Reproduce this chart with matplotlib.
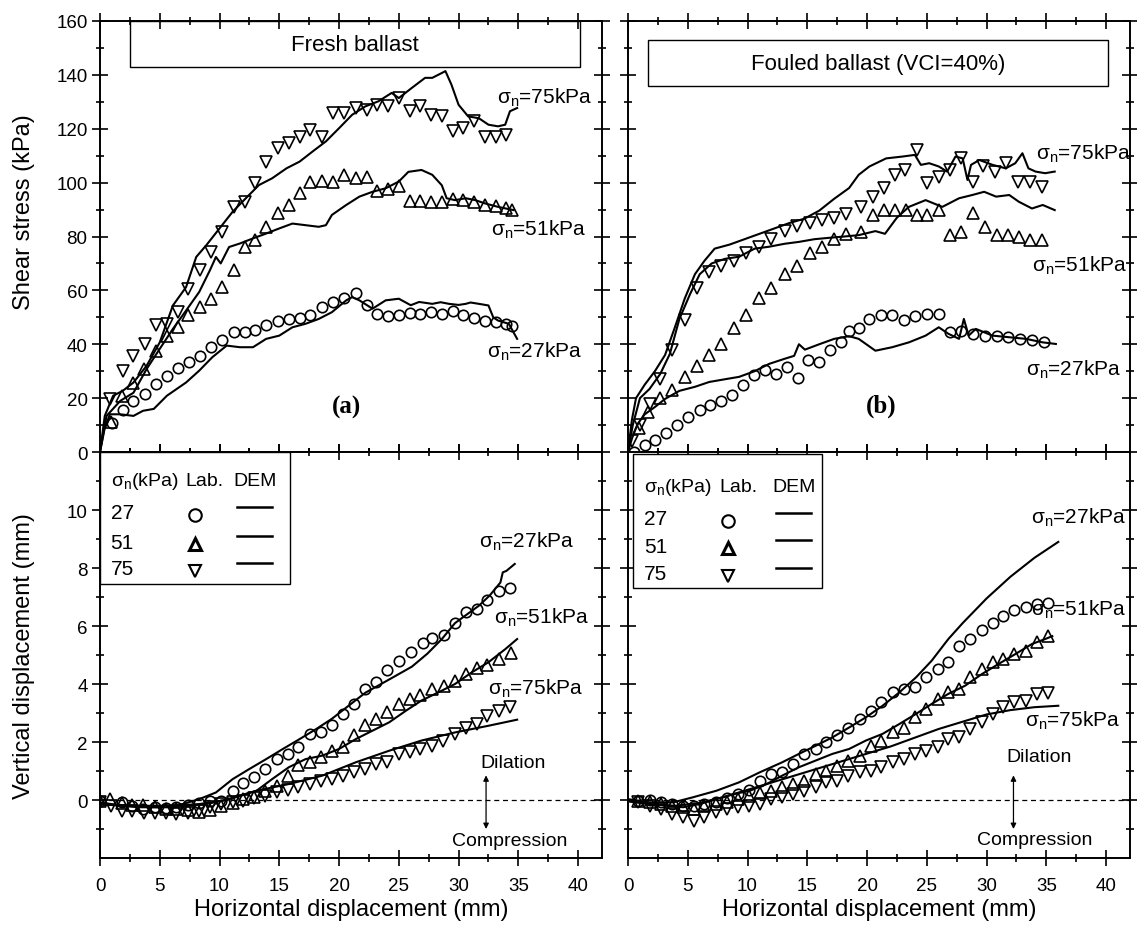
import numpy as np
import matplotlib
matplotlib.use('Agg')
import matplotlib.pyplot as plt
from matplotlib.patches import Rectangle

plt.rcParams['font.family'] = ['Liberation Sans', 'DejaVu Sans']

# ---------------- (a) fresh ballast, shear stress (kPa) ----------------
a_lab27_x = [0.97, 1.89, 2.78, 3.75, 4.67, 5.61, 6.53, 7.44, 8.39, 9.31, 10.2, 11.2, 12.1, 13.0,
             13.9, 14.9, 15.8, 16.7, 17.6, 18.6, 19.5, 20.4, 21.4, 22.3, 23.2, 24.1, 25.0, 25.9,
             26.8, 27.7, 28.6, 29.5, 30.4, 31.3, 32.2, 33.1, 34.0, 34.5]
a_lab27_y = [10.9, 15.7, 19.0, 21.5, 25.2, 28.3, 31.1, 33.3, 35.5, 38.9, 41.7, 44.5, 44.7, 45.3,
             47.2, 48.8, 49.4, 49.7, 50.9, 53.8, 55.7, 57.1, 59.1, 54.4, 51.3, 50.4, 50.7, 51.5,
             51.3, 51.9, 51.3, 52.2, 51.0, 49.8, 48.8, 48.2, 47.6, 46.8]
a_lab51_x = [0.9, 1.8, 2.8, 3.7, 4.7, 5.6, 6.5, 7.4, 8.4, 9.3, 10.2, 11.2, 12.1, 13.0, 13.9, 14.9,
             15.8, 16.7, 17.6, 18.6, 19.5, 20.4, 21.4, 22.3, 23.2, 24.1, 25.0, 25.9, 26.8, 27.7,
             28.6, 29.5, 30.4, 31.3, 32.2, 33.1, 34.0, 34.5]
a_lab51_y = [11.0, 20.9, 25.5, 30.8, 37.6, 43.2, 46.3, 50.7, 53.8, 56.9, 61.2, 67.5, 76.1, 78.6,
             83.6, 88.6, 91.7, 96.0, 100.4, 100.6, 100.4, 102.9, 101.9, 102.2, 96.8, 97.5, 98.6,
             93.0, 93.0, 92.9, 92.7, 94.0, 93.5, 92.9, 91.8, 91.2, 90.6, 90.0]
a_lab75_x = [0.8, 1.9, 2.8, 3.75, 4.7, 5.6, 6.5, 7.4, 8.4, 9.3, 10.2, 11.2, 12.1, 13.0, 13.9,
             14.9, 15.8, 16.7, 17.6, 18.6, 19.5, 20.4, 21.4, 22.3, 23.2, 24.1, 25.0, 25.9, 26.8,
             27.7, 28.6, 29.5, 30.4, 31.3, 32.2, 33.1, 34.0]
a_lab75_y = [19.6, 30.2, 35.8, 40.1, 47.0, 47.6, 51.9, 60.6, 67.5, 74.3, 81.7, 91.1, 92.9, 99.8,
             107.8, 112.8, 114.7, 117.1, 119.6, 117.1, 125.8, 125.8, 127.7, 127.1, 128.9, 128.3,
             131.4, 126.5, 128.3, 125.2, 124.6, 119.0, 120.3, 123.0, 117.0, 117.0, 117.5]

a_dem27_x = [0, 0.4, 0.83, 1.7, 2.8, 3.6, 4.5, 5.6, 7.2, 8.3, 9.4, 10.6, 11.7, 12.8, 13.9, 15.0,
             16.1, 17.2, 18.3, 19.4, 20.6, 21.1, 21.7, 22.8, 23.9, 25.0, 26.0, 26.7, 27.8, 28.5,
             29.2, 30.0, 30.6, 31.0, 31.7, 32.5, 32.9, 33.3, 34.2, 34.9]
a_dem27_y = [0, 9.0, 14.0, 14.0, 13.4, 15.3, 16.0, 20.9, 25.8, 30.2, 35.2, 39.5, 38.9, 38.9, 42.0,
             43.2, 46.3, 47.6, 49.4, 51.9, 56.3, 57.5, 56.3, 53.2, 56.3, 56.9, 54.5, 55.7, 55.0,
             55.6, 55.0, 54.6, 55.0, 55.5, 55.0, 54.4, 50.0, 48.8, 47.6, 42.0]
a_dem51_x = [0, 0.55, 1.7, 2.8, 3.9, 5.0, 6.1, 7.2, 8.3, 9.2, 9.7, 10.1, 10.8, 11.7, 12.8, 13.9,
             15.0, 16.1, 17.2, 18.3, 18.9, 19.4, 20.6, 21.7, 22.8, 23.9, 25.0, 25.8, 26.9, 27.8,
             28.6, 29.0, 29.7, 30.6, 31.4, 32.2, 33.3, 34.6]
a_dem51_y = [0, 13.4, 19.0, 22.0, 30.8, 38.3, 45.7, 52.5, 59.4, 67.5, 72.4, 70.0, 76.1, 77.4, 79.3,
             81.1, 83.0, 84.8, 84.2, 83.6, 84.2, 88.0, 91.7, 94.8, 96.6, 97.9, 100.4, 104.0, 104.7,
             102.9, 99.0, 94.2, 93.5, 94.2, 93.5, 92.3, 91.0, 89.8]
a_dem75_x = [0, 0.4, 1.1, 1.9, 2.8, 3.9, 5.0, 6.1, 7.2, 8.05, 8.9, 10.0, 11.1, 12.2, 13.3, 14.4,
             15.6, 16.7, 17.8, 18.9, 20.0, 21.1, 22.2, 23.3, 24.4, 25.0, 26.1, 27.2, 27.8, 28.6,
             28.9, 29.4, 30.0, 30.8, 31.7, 32.5, 33.3, 33.9, 34.3, 34.9]
a_dem75_y = [0, 13.4, 20.9, 22.7, 25.8, 32.0, 40.7, 54.4, 61.2, 72.4, 76.8, 83.0, 89.2, 94.2, 99.1,
             101.6, 105.3, 107.8, 111.6, 115.3, 120.2, 125.2, 128.3, 130.2, 133.3, 131.4, 135.2,
             138.9, 138.9, 140.7, 141.4, 136.4, 128.9, 124.6, 123.9, 121.5, 120.9, 121.5, 126.5, 127.7]

# ---------------- (b) fouled ballast, shear stress (kPa) ----------------
b_lab27_x = [0.5, 1.4, 2.3, 3.2, 4.1, 5.0, 6.0, 6.9, 7.8, 8.7, 9.6, 10.5, 11.5, 12.4, 13.3, 14.2,
             15.1, 16.0, 16.9, 17.8, 18.5, 19.3, 20.2, 21.2, 22.1, 23.1, 24.0, 25.0, 26.0, 26.9,
             27.9, 28.9, 29.9, 30.9, 31.8, 32.8, 33.8, 34.8]
b_lab27_y = [0, 2.5, 4.5, 7.0, 10.0, 13.0, 15.5, 17.5, 19.0, 21.0, 25.0, 28.5, 30.5, 29.0, 31.5,
             27.5, 34.0, 33.5, 38.0, 41.0, 45.0, 46.0, 49.5, 51.0, 51.0, 49.0, 50.4, 51.3, 51.3,
             44.5, 45.1, 43.9, 43.2, 43.2, 42.6, 42.0, 41.4, 40.7]
b_lab51_x = [0.9, 1.7, 2.7, 3.7, 4.75, 5.75, 6.8, 7.8, 8.9, 9.9, 11.0, 12.0, 13.1, 14.1, 15.2, 16.2,
             17.25, 18.25, 19.5, 20.5, 21.4, 22.3, 23.3, 24.2, 25.0, 26.0, 26.9, 27.9, 28.9, 29.9,
             30.9, 31.8, 32.7, 33.6, 34.6]
b_lab51_y = [9.0, 15.0, 20.0, 23.0, 28.0, 32.0, 36.0, 40.0, 46.0, 51.0, 57.0, 61.0, 66.0, 69.0,
             74.0, 76.0, 79.0, 81.0, 81.7, 88.0, 89.8, 89.8, 89.8, 88.0, 88.0, 89.8, 80.5, 81.7,
             88.6, 83.6, 80.5, 80.5, 79.9, 78.6, 78.6]
b_lab75_x = [0.3, 1.0, 1.8, 2.7, 3.7, 4.75, 5.75, 6.8, 7.8, 8.9, 9.9, 11.0, 12.0, 13.1, 14.1, 15.2,
             16.2, 17.25, 18.25, 19.5, 20.5, 21.4, 22.3, 23.2, 24.2, 25.0, 26.0, 26.9, 27.9, 28.9,
             29.7, 30.7, 31.6, 32.6, 33.6, 34.6]
b_lab75_y = [4.0, 10.0, 18.0, 27.0, 38.0, 49.0, 61.0, 67.0, 69.0, 71.0, 74.0, 76.0, 79.0, 82.0,
             84.0, 85.0, 86.0, 87.0, 88.5, 91.0, 94.8, 97.9, 102.9, 104.7, 112.2, 99.8, 102.2,
             104.7, 109.0, 100.4, 106.0, 104.1, 107.2, 100.4, 100.4, 98.5]

b_dem27_x = [0, 0.33, 0.8, 1.4, 2.25, 3.1, 4.3, 5.6, 6.8, 8.1, 9.3, 10.6, 11.8, 13.1, 13.9, 14.3,
             14.8, 16.0, 17.25, 18.5, 19.3, 20.7, 22.1, 23.5, 24.9, 26.0, 26.8, 27.7, 28.1, 28.5,
             29.1, 30.5, 31.9, 33.3, 34.7, 35.8]
b_dem27_y = [0, 5.0, 10.4, 14.0, 16.7, 19.7, 22.7, 24.2, 26.0, 27.0, 27.9, 30.0, 32.7, 34.6, 35.7,
             40.0, 38.0, 40.0, 42.0, 43.0, 42.0, 37.6, 38.9, 40.7, 43.2, 46.3, 43.9, 42.0, 49.4,
             43.2, 45.7, 43.2, 42.6, 42.0, 40.7, 40.1]
b_dem51_x = [0, 0.4, 1.0, 1.8, 2.7, 3.5, 4.3, 5.2, 6.0, 7.0, 8.1, 9.3, 10.6, 11.8, 13.1, 14.3, 15.6,
             16.8, 18.1, 19.3, 20.7, 21.5, 22.5, 23.5, 24.9, 26.3, 27.7, 28.8, 29.8, 30.8, 31.9,
             32.7, 33.8, 34.7, 35.7]
b_dem51_y = [0, 10.0, 20.0, 23.4, 29.0, 36.4, 49.4, 58.7, 66.0, 70.0, 71.7, 72.5, 75.5, 76.2, 77.3,
             78.0, 79.0, 79.5, 80.0, 80.5, 82.0, 81.0, 87.0, 91.0, 93.5, 91.0, 94.2, 95.4, 96.6,
             94.8, 95.4, 92.9, 90.4, 91.7, 89.8]
b_dem75_x = [0, 0.33, 0.67, 1.4, 2.25, 3.1, 3.9, 4.75, 5.6, 6.4, 7.25, 8.5, 9.75, 11.0, 12.25, 13.5,
             14.75, 16.0, 17.25, 18.5, 19.3, 20.2, 21.6, 23.0, 24.0, 24.5, 25.2, 26.0, 26.7, 27.4,
             28.0, 28.4, 28.7, 29.4, 30.5, 31.6, 32.4, 33.0, 33.5, 34.1, 34.9, 35.7]
b_dem75_y = [0, 12.0, 20.0, 25.0, 30.0, 36.0, 46.0, 57.0, 66.0, 71.0, 75.5, 77.0, 79.0, 81.0, 83.0,
             85.0, 86.6, 89.6, 94.0, 98.0, 102.9, 106.0, 109.0, 109.7, 110.3, 106.6, 107.2, 106.0,
             104.1, 109.7, 109.0, 101.0, 106.6, 108.4, 106.6, 105.3, 107.2, 110.9, 105.3, 104.1,
             103.5, 104.1]

# ---------------- (a) vertical displacement (mm) ----------------
c_lab27_x = [0, 1.8, 2.7, 3.6, 4.6, 5.5, 6.4, 7.4, 8.3, 9.2, 10.1, 11.1, 12.0, 12.9, 13.8, 14.8,
             15.7, 16.6, 17.6, 18.5, 19.4, 20.3, 21.25, 22.2, 23.1, 24.0, 25.0, 26.0, 27.0, 27.8,
             28.75, 29.7, 30.6, 31.5, 32.4, 33.4, 34.3]
c_lab27_y = [-0.02, -0.06, -0.2, -0.3, -0.25, -0.29, -0.25, -0.16, -0.1, -0.05, -0.05, 0.32, 0.59,
             0.78, 1.07, 1.41, 1.6, 1.82, 2.28, 2.34, 2.6, 2.97, 3.32, 3.84, 4.07, 4.5, 4.8, 5.1,
             5.4, 5.6, 5.7, 6.1, 6.5, 6.6, 6.9, 7.2, 7.3]
c_lab51_x = [0, 0.8, 1.8, 2.7, 3.6, 4.6, 5.5, 6.4, 7.4, 8.3, 9.2, 10.1, 11.1, 12.0, 12.9, 13.8,
             14.8, 15.7, 16.6, 17.6, 18.5, 19.4, 20.3, 21.25, 22.2, 23.1, 24.0, 25.0, 25.9, 26.8,
             27.8, 28.75, 29.7, 30.6, 31.5, 32.4, 33.4, 34.4]
c_lab51_y = [-0.02, 0.03, -0.1, -0.17, -0.17, -0.25, -0.3, -0.3, -0.33, -0.43, -0.33, -0.2, -0.1,
             0.03, 0.09, 0.32, 0.49, 0.84, 1.2, 1.3, 1.5, 1.7, 1.82, 2.24, 2.59, 2.8, 3.02, 3.3, 3.5,
             3.62, 3.83, 3.94, 4.1, 4.34, 4.54, 4.66, 4.86, 5.07]
c_lab75_x = [0, 0.9, 1.8, 2.7, 3.7, 4.6, 5.5, 6.4, 7.4, 8.3, 9.2, 10.1, 11.1, 12.0, 12.9, 13.8,
             14.8, 15.7, 16.6, 17.6, 18.5, 19.4, 20.3, 21.25, 22.2, 23.1, 24.0, 25.0, 25.9, 26.8,
             27.8, 28.7, 29.7, 30.6, 31.5, 32.4, 33.4, 34.3]
c_lab75_y = [-0.08, -0.2, -0.37, -0.37, -0.45, -0.45, -0.45, -0.48, -0.45, -0.37, -0.25, -0.14,
             -0.06, -0.02, 0.06, 0.15, 0.26, 0.36, 0.44, 0.55, 0.67, 0.72, 0.84, 0.95, 1.07, 1.24,
             1.32, 1.59, 1.64, 1.76, 1.87, 2.05, 2.28, 2.5, 2.62, 2.9, 3.08, 3.2]

c_dem27_x = [0, 1.9, 4.7, 6.9, 8.3, 9.7, 11.1, 12.5, 13.9, 15.3, 16.7, 18.1, 19.4, 20.8, 22.2,
             23.3, 24.6, 26.1, 27.4, 28.6, 29.7, 30.7, 31.7, 32.6, 33.5, 33.7, 34.0, 34.7]
c_dem27_y = [-0.08, -0.2, -0.25, -0.14, 0.03, 0.26, 0.72, 1.07, 1.41, 1.76, 2.1, 2.45, 2.8, 3.25,
             3.7, 3.95, 4.25, 4.6, 5.05, 5.55, 6.1, 6.4, 6.7, 7.05, 7.5, 7.85, 7.9, 8.14]
c_dem51_x = [0, 3.3, 6.1, 8.3, 10.3, 11.7, 13.1, 14.4, 15.8, 17.2, 18.6, 20.0, 21.4, 22.8, 24.2,
             25.6, 26.9, 28.3, 29.7, 31.1, 32.5, 33.9, 34.9]
c_dem51_y = [-0.14, -0.2, -0.2, -0.14, -0.02, 0.15, 0.32, 0.72, 1.13, 1.41, 1.53, 1.76, 2.1, 2.39,
             2.68, 3.08, 3.43, 3.71, 4.0, 4.4, 4.75, 5.2, 5.55]
c_dem75_x = [0, 3.3, 6.1, 8.9, 11.1, 13.1, 15.8, 18.6, 21.4, 24.2, 26.9, 29.7, 32.5, 34.9]
c_dem75_y = [-0.14, -0.25, -0.25, -0.14, 0.06, 0.32, 0.55, 0.84, 1.3, 1.7, 2.05, 2.33, 2.56, 2.77]

# ---------------- (b) vertical displacement (mm) ----------------
d_lab_x = [0.86, 1.8, 2.8, 3.7, 4.6, 5.5, 6.4, 7.4, 8.3, 9.2, 10.1, 11.06, 12.0, 12.9, 13.8, 14.75,
           15.7, 16.6, 17.5, 18.4, 19.4, 20.3, 21.2, 22.2, 23.1, 24.0, 24.9, 25.9, 26.8, 27.7,
           28.6, 29.6, 30.5, 31.4, 32.3, 33.3, 34.2]
d_lab27_y = [-0.02, 0, -0.08, -0.14, -0.2, -0.2, -0.14, -0.08, 0.06, 0.2, 0.36, 0.67, 0.9, 0.95,
             1.24, 1.59, 1.76, 2.01, 2.24, 2.5, 2.8, 3.08, 3.37, 3.71, 3.83, 3.89, 4.23, 4.52, 4.77,
             5.32, 5.55, 5.85, 6.1, 6.35, 6.55, 6.65, 6.75]
d_lab51_y = [-0.02, -0.08, -0.14, -0.2, -0.25, -0.31, -0.2, -0.14, -0.08, 0.03, 0.15, 0.24, 0.32,
             0.44, 0.55, 0.67, 0.9, 1.01, 1.18, 1.36, 1.53, 1.87, 2.05, 2.33, 2.5, 2.85, 3.14, 3.48,
             3.71, 3.83, 4.23, 4.52, 4.75, 4.86, 5.03, 5.15, 5.44]
d_lab75_y = [-0.08, -0.2, -0.31, -0.48, -0.6, -0.71, -0.6, -0.43, -0.31, -0.25, -0.2, -0.14, 0.03,
             0.09, 0.2, 0.32, 0.44, 0.61, 0.67, 0.84, 0.95, 1.01, 1.13, 1.3, 1.41, 1.59, 1.7, 1.82,
             2.1, 2.16, 2.45, 2.68, 2.97, 3.2, 3.37, 3.43, 3.66]
d_lab_end_x = [35.1]
d_lab27_end = [6.8]
d_lab51_end = [5.65]
d_lab75_end = [3.7]

d_dem27_x = [0, 1.8, 3.8, 5.4, 7.4, 9.3, 11.0, 12.9, 14.3, 15.7, 17.1, 18.5, 19.9, 21.3, 22.7, 24.1,
             25.4, 26.8, 28.0, 30.0, 32.0, 34.0, 36.0]
d_dem27_y = [0.03, -0.08, -0.08, 0.09, 0.32, 0.61, 0.95, 1.3, 1.59, 1.87, 2.16, 2.5, 2.85, 3.25, 3.71,
             4.23, 4.8, 5.55, 6.1, 6.95, 7.7, 8.35, 8.9]
d_dem51_x = [0, 1.8, 4.6, 6.0, 7.4, 8.8, 10.2, 11.6, 12.9, 14.3, 15.7, 17.1, 18.5, 19.9, 21.3, 22.7,
             24.1, 25.4, 26.8, 28.2, 29.6, 31.0, 32.4, 33.8, 34.9, 35.5]
d_dem51_y = [-0.02, -0.14, -0.25, -0.14, 0.03, 0.2, 0.32, 0.55, 0.84, 1.13, 1.36, 1.59, 1.76, 2.05,
             2.28, 2.62, 2.97, 3.31, 3.66, 3.94, 4.34, 4.69, 5.03, 5.38, 5.55, 5.65]
d_dem75_x = [0, 2, 4, 6, 8, 10, 12, 14, 16, 18, 20, 22, 24, 26, 28, 30, 32, 34, 36]
d_dem75_y = [-0.05, -0.15, -0.2, -0.1, 0.1, 0.35, 0.6, 0.85, 1.1, 1.35, 1.6, 1.85, 2.15, 2.45, 2.7,
             2.95, 3.1, 3.2, 3.25]

TITLES = ['Fresh ballast', 'Fouled ballast (VCI=40%)']
XTICKS = [0, 5, 10, 15, 20, 25, 30, 35, 40]
SIG = r'$\mathregular{\sigma_n}$'

W, H = 1137, 929
fig = plt.figure(figsize=(W / 100, H / 100), dpi=100)

def pos(l, t, r, b):
    return [l / W, 1 - b / H, (r - l) / W, (b - t) / H]

ax_a = fig.add_axes(pos(100, 22, 602, 453))
ax_b = fig.add_axes(pos(628, 22, 1130, 453))
ax_c = fig.add_axes(pos(100, 453, 602, 859))
ax_d = fig.add_axes(pos(628, 453, 1130, 859))

mk = dict(linestyle='none', mfc='none', mec='black', mew=1.2)
ln = dict(color='black', lw=1.5)


def lab_and_dem(ax, lab, dem):
    for (x, y), m, s in zip(lab, ['o', '^', 'v'], [7.5, 8.5, 8.5]):
        ax.plot(x, y, marker=m, ms=s, **mk)
    for x, y in dem:
        ax.plot(x, y, **ln)


lab_and_dem(ax_a, [(a_lab27_x, a_lab27_y), (a_lab51_x, a_lab51_y), (a_lab75_x, a_lab75_y)],
            [(a_dem27_x, a_dem27_y), (a_dem51_x, a_dem51_y), (a_dem75_x, a_dem75_y)])
lab_and_dem(ax_b, [(b_lab27_x, b_lab27_y), (b_lab51_x, b_lab51_y), (b_lab75_x, b_lab75_y)],
            [(b_dem27_x, b_dem27_y), (b_dem51_x, b_dem51_y), (b_dem75_x, b_dem75_y)])
lab_and_dem(ax_c, [(c_lab27_x, c_lab27_y), (c_lab51_x, c_lab51_y), (c_lab75_x, c_lab75_y)],
            [(c_dem27_x, c_dem27_y), (c_dem51_x, c_dem51_y), (c_dem75_x, c_dem75_y)])
lab_and_dem(ax_d, [(d_lab_x + d_lab_end_x, d_lab27_y + d_lab27_end),
                   (d_lab_x + d_lab_end_x, d_lab51_y + d_lab51_end),
                   (d_lab_x + d_lab_end_x, d_lab75_y + d_lab75_end)],
            [(d_dem27_x, d_dem27_y), (d_dem51_x, d_dem51_y), (d_dem75_x, d_dem75_y)])

for ax in (ax_a, ax_b, ax_c, ax_d):
    ax.set_xlim(0, 42)
    ax.set_xticks(XTICKS)
    ax.set_xticks(np.arange(2.5, 42, 5), minor=True)
    ax.tick_params(which='both', direction='inout', top=True, right=True, labelsize=13.5,
                   width=1.2)
    ax.tick_params(which='major', length=11)
    ax.tick_params(which='minor', length=6)
    for sp in ax.spines.values():
        sp.set_linewidth(1.4)

for ax in (ax_a, ax_b):
    ax.set_ylim(0, 160)
    ax.set_yticks(np.arange(0, 161, 20))
    ax.set_yticks(np.arange(10, 160, 20), minor=True)
    ax.tick_params(labelbottom=False)

for ax in (ax_c, ax_d):
    ax.set_ylim(-2, 12)
    ax.set_yticks(np.arange(0, 11, 2))
    ax.set_yticks([-1, 1, 3, 5, 7, 9, 11], minor=True)
    ax.axhline(0, color='black', lw=0.9, ls=(0, (4, 3)))
    ax.set_xlabel('Horizontal displacement (mm)', fontsize=17)
    ax.xaxis.set_label_coords(0.5, -0.098)
    ax.tick_params(axis='x', pad=8)

for ax in (ax_b, ax_d):
    ax.tick_params(labelleft=False)

ax_a.set_ylabel('Shear stress (kPa)', fontsize=17)
ax_a.yaxis.set_label_coords(-0.13, 0.56)
ax_c.set_ylabel('Vertical displacement (mm)', fontsize=17)
ax_c.yaxis.set_label_coords(-0.13, 0.5)

# title boxes
for ax, title, (x0, x1, y0, y1) in [(ax_a, TITLES[0], (0.06, 0.956, 0.893, 1.0)),
                                   (ax_b, TITLES[1], (0.04, 0.956, 0.849, 0.956))]:
    ax.add_patch(Rectangle((x0, y0), x1 - x0, y1 - y0, transform=ax.transAxes,
                           fill=False, lw=1.0, ec='black', clip_on=False))
    ax.text((x0 + x1) / 2, (y0 + y1) / 2, title, transform=ax.transAxes,
            ha='center', va='center', fontsize=16)

ax_a.text(20.6, 17, '(a)', family='Liberation Serif', weight='bold', fontsize=18,
          ha='center', va='center')
ax_b.text(21.2, 17.5, '(b)', family='Liberation Serif', weight='bold', fontsize=18,
          ha='center', va='center')

# sigma_n annotations
tk = dict(fontsize=15, ha='left', va='center')
ax_a.text(33.2, 132, SIG + '=75kPa', **tk)
ax_a.text(32.7, 83, SIG + '=51kPa', **tk)
ax_a.text(32.4, 37.5, SIG + '=27kPa', **tk)
ax_b.text(34.1, 111, SIG + '=75kPa', **tk)
ax_b.text(33.8, 69.5, SIG + '=51kPa', **tk)
ax_b.text(33.3, 31, SIG + '=27kPa', **tk)
ax_c.text(31.7, 8.95, SIG + '=27kPa', **tk)
ax_c.text(33.0, 6.3, SIG + '=51kPa', **tk)
ax_c.text(32.5, 3.85, SIG + '=75kPa', **tk)
ax_d.text(33.7, 9.75, SIG + '=27kPa', **tk)
ax_d.text(33.7, 6.6, SIG + '=51kPa', **tk)
ax_d.text(33.2, 2.75, SIG + '=75kPa', **tk)

# dilation / compression
for ax, xa, xd, yd, xc, yc in [(ax_c, 32.3, 34.6, 1.3, 34.3, -1.4),
                               (ax_d, 32.25, 34.4, 1.5, 34.0, -1.35)]:
    ax.annotate('', xy=(xa, -1.0), xytext=(xa, 0.85),
                arrowprops=dict(arrowstyle='<|-|>', color='black', lw=0.9,
                                mutation_scale=8, shrinkA=0, shrinkB=0))
    ax.text(xd, yd, 'Dilation', fontsize=14, ha='center', va='center')
    ax.text(xc, yc, 'Compression', fontsize=14, ha='center', va='center')

# hand-made legends
LEG_VALUES = ['27', '51', '75']
for ax, (bx0, bx1, by0, by1), hy, rows, xs, xm, xl in [
        (ax_c, (0.0, 0.378, 0.675, 1.0), 0.929, [0.85, 0.778, 0.712],
         0.021, 0.189, (0.273, 0.343)),
        (ax_d, (0.01, 0.386, 0.665, 0.995), 0.914, [0.835, 0.768, 0.70],
         0.032, 0.199, (0.295, 0.365))]:
    ax.add_patch(Rectangle((bx0, by0), bx1 - bx0, by1 - by0, transform=ax.transAxes,
                           fc='white', ec='black', lw=1.0, zorder=5))
    ax.text(xs, hy, SIG + '(kPa)', transform=ax.transAxes, fontsize=14,
            ha='left', va='center', zorder=6)
    ax.text(xm + 0.02, hy, 'Lab.', transform=ax.transAxes, fontsize=14,
            ha='center', va='center', zorder=6)
    ax.text((xl[0] + xl[1]) / 2, hy, 'DEM', transform=ax.transAxes, fontsize=14,
            ha='center', va='center', zorder=6)
    for val, ry, m, mw in zip(LEG_VALUES, rows, ['o', '^', 'v'], [1.5, 2.2, 1.5]):
        ax.text(xs, ry, val, transform=ax.transAxes, fontsize=15,
                ha='left', va='center', zorder=6)
        ax.plot([xm], [ry - 0.005], marker=m, ms=9, mfc='none', mec='black', mew=mw,
                transform=ax.transAxes, zorder=6, clip_on=False)
        ax.plot(list(xl), [ry + 0.015] * 2, color='black', lw=1.8,
                transform=ax.transAxes, zorder=6, clip_on=False)

fig.savefig('out.png', dpi=100)
